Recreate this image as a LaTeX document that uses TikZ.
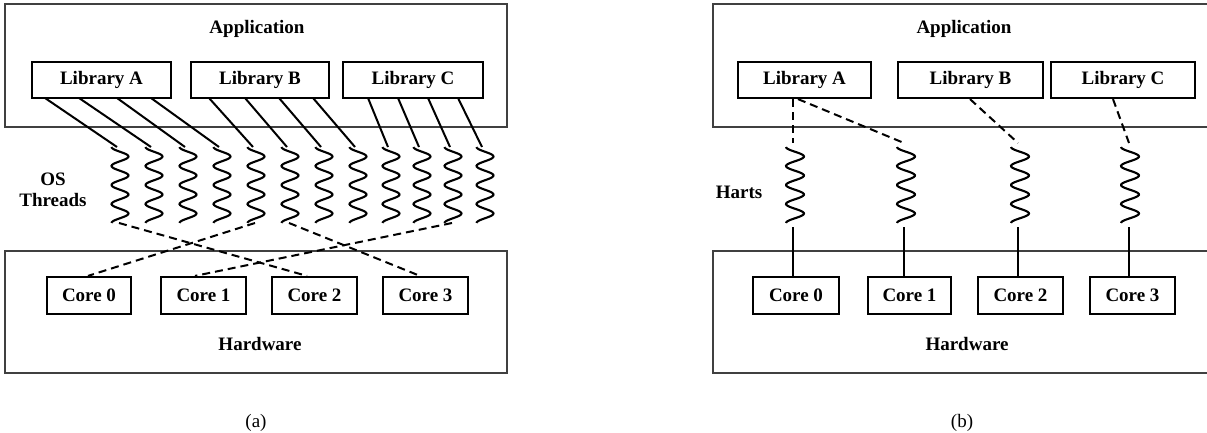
\documentclass[tikz,border=0pt]{standalone}
\usepackage{fontspec}
\setmainfont{Liberation Serif}
\begin{document}
\begin{tikzpicture}[x=1pt,y=-1pt,
  outerbox/.style={draw=black!75,line width=1.1pt},
  innerbox/.style={draw=black,line width=2.2pt,inner sep=0pt,
    font=\bfseries\fontsize{19}{21}\selectfont},
  lbl/.style={inner sep=0pt,font=\bfseries\fontsize{19}{20.5}\selectfont,align=center},
  caption/.style={inner sep=0pt,font=\fontsize{19}{21}\selectfont},
  link/.style={draw=black,line width=2pt},
  maplink/.style={draw=black,line width=2pt,dash pattern=on 8pt off 5pt},
  coil/.style={draw=black,line width=2.1pt}
]
\useasboundingbox (0,0) rectangle (1207,433);

% ---------------- (a) OS threads ----------------
\node[outerbox,minimum width=502pt,minimum height=123pt] (appa) at (256,65.5) {};
\node[lbl] (appatxt) at (257,29) {Application};
\node[innerbox,minimum width=139pt,minimum height=36pt] (liba) at (101.5,80) {Library A};
\node[innerbox,minimum width=138pt,minimum height=36pt] (libb) at (260,80) {Library B};
\node[innerbox,minimum width=140pt,minimum height=36pt] (libc) at (413,80) {Library C};

\node[outerbox,minimum width=502pt,minimum height=122pt] (hwa) at (256,312) {};
\node[lbl] (hwatxt) at (260,344) {Hardware};
\node[innerbox,minimum width=84pt,minimum height=37pt] (ca0) at (89,295.5) {Core 0};
\node[innerbox,minimum width=85pt,minimum height=37pt] (ca1) at (203.5,295.5) {Core 1};
\node[innerbox,minimum width=85pt,minimum height=37pt] (ca2) at (314.5,295.5) {Core 2};
\node[innerbox,minimum width=85pt,minimum height=37pt] (ca3) at (425.5,295.5) {Core 3};

\node[lbl] (osthr) at (53,190) {OS\\Threads};

% twelve thread coils
\foreach \i/\c in {1/120,2/154,3/188,4/222,5/256,6/290,7/324,8/358,9/391,10/422,11/453,12/485}{
  \coordinate (ta\i) at (\c-3,147);
  \coordinate (ba\i) at (\c-1,223);
  \draw[coil] plot[domain=0:4,samples=90,smooth] ({\c-8.5*cos(360*\x)},{147+19*\x});
}
% library attachment points
\foreach \i/\x in {1/45,2/79,3/117,4/151,5/209,6/245,7/279,8/313,9/368,10/398,11/428,12/458}{
  \coordinate (la\i) at (\x,98);
}
\foreach \i in {1,...,12}{ \draw[link] (la\i) -- (ta\i); }

% threads multiplexed onto cores
\draw[maplink] (ba1) -- (ca2.north -| 307,0);
\draw[maplink] (ba5) -- (ca0.north -| 88,0);
\draw[maplink] (ba6) -- (ca3.north -| 420,0);
\draw[maplink] (ba11) -- (ca1.north -| 195,0);

\node[caption] (capa) at (256,423) {(a)};

% ---------------- (b) harts ----------------
\node[outerbox,minimum width=504pt,minimum height=123pt] (appb) at (965,65.5) {};
\node[lbl] (appbtxt) at (964,29) {Application};
\node[innerbox,minimum width=133pt,minimum height=36pt] (lbba) at (804.5,80) {Library A};
\node[innerbox,minimum width=145pt,minimum height=36pt] (lbbb) at (970.5,80) {Library B};
\node[innerbox,minimum width=144pt,minimum height=36pt] (lbbc) at (1123,80) {Library C};

\node[outerbox,minimum width=504pt,minimum height=122pt] (hwb) at (965,312) {};
\node[lbl] (hwbtxt) at (967,344) {Hardware};
\node[innerbox,minimum width=86pt,minimum height=37pt] (cb0) at (796,295.5) {Core 0};
\node[innerbox,minimum width=83pt,minimum height=37pt] (cb1) at (909.5,295.5) {Core 1};
\node[innerbox,minimum width=85pt,minimum height=37pt] (cb2) at (1020.5,295.5) {Core 2};
\node[innerbox,minimum width=85pt,minimum height=37pt] (cb3) at (1132.5,295.5) {Core 3};

\node[lbl] (harts) at (739,192) {Harts};

\foreach \i/\c/\l in {0/795/793,1/906/904,2/1020/1018,3/1130/1129}{
  \coordinate (tb\i) at (\l,143);
  \coordinate (bb\i) at (\l,227);
  \draw[coil] plot[domain=0:4,samples=90,smooth] ({\c-9*cos(360*\x)},{147+19*\x});
}
% harts are pinned to cores
\draw[link] (bb0) -- (cb0.north -| bb0);
\draw[link] (bb1) -- (cb1.north -| bb1);
\draw[link] (bb2) -- (cb2.north -| bb2);
\draw[link] (bb3) -- (cb3.north -| bb3);

% libraries request harts
\draw[maplink] (lbba.south -| 793,0) -- (tb0);
\draw[maplink] (lbba.south -| 798,0) -- (tb1);
\draw[maplink] (lbbb.south -| 970,0) -- (tb2);
\draw[maplink] (lbbc.south -| 1113,0) -- (tb3);

\node[caption] (capb) at (962,423) {(b)};
\end{tikzpicture}
\end{document}
